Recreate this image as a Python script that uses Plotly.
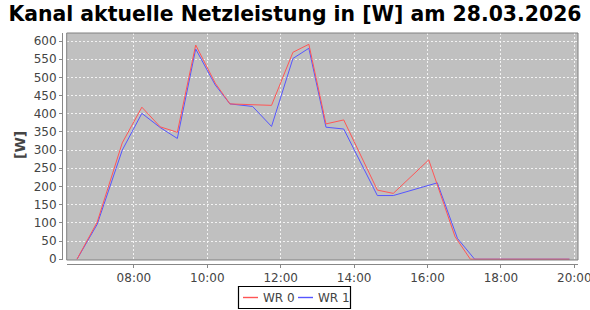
import plotly.graph_objects as go

DAY = "2026-03-28 "

# Series WR 0 (red)
wr0_times = ["06:27", "07:00", "07:41", "08:13", "08:43", "09:11", "09:41", "10:13",
             "10:37", "11:14", "11:45", "12:20", "12:46", "13:14", "13:43", "14:38",
             "15:04", "16:02", "16:45", "17:10", "19:52"]
wr0_values = [0, 102, 320, 418, 364, 349, 589, 484, 427, 425, 423, 569, 591, 372, 383,
              190, 181, 273, 62, 0, 0]

# Series WR 1 (blue)
wr1_times = ["06:27", "07:00", "07:41", "08:13", "08:43", "09:11", "09:41", "10:13",
             "10:37", "11:14", "11:45", "12:20", "12:46", "13:14", "13:43", "14:38",
             "15:04", "16:16", "16:49", "17:17", "19:52"]
wr1_values = [0, 96, 300, 401, 362, 332, 578, 479, 427, 420, 365, 552, 580, 363, 358,
              175, 175, 210, 57, 0, 0]

y_ticks = list(range(0, 601, 50))
series_names = ["WR 0", "WR 1"]
series_colors = ["#FF5555", "#5555FF"]

title_text = "Kanal aktuelle Netzleistung in [W] am 28.03.2026"
y_title = "[W]"

fig = go.Figure()
fig.add_trace(go.Scatter(x=[DAY + t for t in wr1_times], y=wr1_values, mode="lines",
                         name=series_names[1], line=dict(color=series_colors[1], width=1)))
fig.add_trace(go.Scatter(x=[DAY + t for t in wr0_times], y=wr0_values, mode="lines",
                         name=series_names[0], line=dict(color=series_colors[0], width=1)))

# manual legend geometry (paper coords of the plot region)
L, T, W, H = 62, 33, 516, 231
def px(xp):
    return (xp - L) / W
def py(yp):
    return (T + H - yp) / H

shapes = [
    dict(type="rect", xref="x domain", yref="y domain", x0=0, x1=1, y0=0, y1=1,
         line=dict(color="#808080", width=1), fillcolor="rgba(0,0,0,0)", layer="above"),
    dict(type="rect", xref="paper", yref="paper", x0=px(238.5), x1=px(350.5), y0=py(308.5), y1=py(286.5),
         line=dict(color="black", width=1.2), fillcolor="rgba(0,0,0,0)", layer="above"),
    dict(type="line", xref="paper", yref="paper", x0=px(243), x1=px(258), y0=py(297.5), y1=py(297.5),
         line=dict(color=series_colors[0], width=1.4), layer="above"),
    dict(type="line", xref="paper", yref="paper", x0=px(298), x1=px(313), y0=py(297.5), y1=py(297.5),
         line=dict(color=series_colors[1], width=1.4), layer="above"),
]
annotations = [
    dict(text="<b>" + y_title + "</b>", textangle=-90, xref="paper", yref="paper",
         x=px(20), y=py(145), xanchor="center", yanchor="middle", showarrow=False,
         font=dict(family="DejaVu Sans", size=14, color="#444444")),
    dict(text=series_names[0], xref="paper", yref="paper", x=px(261), y=py(297.5),
         xanchor="left", yanchor="middle", showarrow=False,
         font=dict(family="DejaVu Sans", size=12, color="#444444")),
    dict(text=series_names[1], xref="paper", yref="paper", x=px(316), y=py(297.5),
         xanchor="left", yanchor="middle", showarrow=False,
         font=dict(family="DejaVu Sans", size=12, color="#444444")),
]

grid_color = "rgba(255,255,255,0.8)"

fig.update_layout(
    width=590, height=310,
    margin=dict(l=L, r=590 - L - W, t=T, b=310 - T - H, autoexpand=False),
    paper_bgcolor="white",
    plot_bgcolor="#C0C0C0",
    font=dict(family="DejaVu Sans", size=12, color="#444444"),
    title=dict(text="<b>" + title_text + "</b>", x=0.5, xref="container", xanchor="center",
               y=1 - 13.5 / 310, yref="container", yanchor="middle",
               font=dict(family="DejaVu Sans", size=20.4, color="black")),
    showlegend=False,
    xaxis=dict(
        domain=[(66.7 - L) / W, 1], anchor="free", position=0.0,
        type="date",
        range=[DAY + "06:10:08", DAY + "20:06:00"],
        tick0=DAY + "00:00", dtick=2 * 3600 * 1000, tickformat="%H:%M",
        showgrid=True, gridcolor=grid_color, griddash="2px,2px", gridwidth=1,
        showline=True, linecolor="#888888", linewidth=1,
        ticks="outside", ticklen=3, tickcolor="#888888",
        zeroline=False, ticklabeloverflow="allow",
        tickfont=dict(size=12, color="#444444"),
    ),
    yaxis=dict(
        domain=[4 / H, 1], anchor="free", position=0.0,
        range=[-2.2, 622],
        tickvals=y_ticks,
        showgrid=True, gridcolor=grid_color, griddash="2px,2px", gridwidth=1,
        showline=True, linecolor="#888888", linewidth=1,
        ticks="outside", ticklen=3, tickcolor="#888888",
        zeroline=False,
        tickfont=dict(size=12, color="#444444"),
    ),
    shapes=shapes,
    annotations=annotations,
)

fig.write_html("out.html")
